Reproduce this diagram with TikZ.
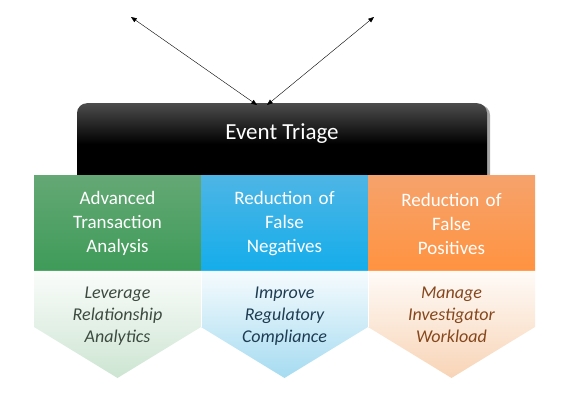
\documentclass[tikz,border=0pt]{standalone}
\usepackage{fontspec}
\setmainfont{Carlito}
\usepackage{tikz}
\usetikzlibrary{positioning,arrows.meta}

\definecolor{grntop}{HTML}{64A875}
\definecolor{grnbot}{HTML}{3E9B58}
\definecolor{blutop}{HTML}{4DB5E5}
\definecolor{blubot}{HTML}{14ADEB}
\definecolor{orgtop}{HTML}{F6A26C}
\definecolor{orgbot}{HTML}{FF9340}
\definecolor{grnlow}{HTML}{CDE5D2}
\definecolor{blulow}{HTML}{A5DBF1}
\definecolor{orglow}{HTML}{F8D4B6}
\definecolor{grntxt}{HTML}{3C4A40}
\definecolor{blutxt}{HTML}{1E3C52}
\definecolor{orgtxt}{HTML}{86471C}

\begin{document}
\begin{tikzpicture}[
x=1pt,y=-1pt,
node distance=0pt,
head/.style={minimum width=167pt,minimum height=95pt,inner sep=0pt,outer sep=0pt,text width=160pt,align=center,text=white,font=\fontsize{19}{24}\selectfont},
sub/.style={text width=160pt,align=center,font=\fontsize{18}{22}\selectfont\itshape},
arrow/.style={{Triangle[length=2mm,width=1.6mm]}-{Triangle[length=2mm,width=1.6mm]},thin}
]
\useasboundingbox (0,0) rectangle (570,403);
% top box
\fill[gray!70,rounded corners=10pt] (80,105) rectangle (490,185);
\node[anchor=north,minimum width=410pt,minimum height=82pt,text depth=25pt,rounded corners=10pt,top color=black!70,bottom color=black,middle color=black,text=white,font=\fontsize{23}{24}\selectfont] (triage) at (282,103) {Event Triage};
% headers
\node[head,anchor=north west,top color=grntop,bottom color=grnbot] (adv) at (34,176) {Advanced\\Transaction\\Analysis};
\node[head,right=of adv,top color=blutop,bottom color=blubot] (neg) {Reduction of\\False\\Negatives};
\node[head,right=of neg,top color=orgtop,bottom color=orgbot] (pos) {Reduction of\\False\\Positives};
% chevrons
\shade[top color=white!90!grnlow,bottom color=grnlow] (adv.south west) -- (adv.south east) -- ++(0,56) -- ([yshift=-107pt]adv.south) -- ([yshift=-56pt]adv.south west) -- cycle;
\shade[top color=white!90!blulow,bottom color=blulow] (neg.south west) -- (neg.south east) -- ++(0,56) -- ([yshift=-107pt]neg.south) -- ([yshift=-56pt]neg.south west) -- cycle;
\shade[top color=white!90!orglow,bottom color=orglow] (pos.south west) -- (pos.south east) -- ++(0,56) -- ([yshift=-107pt]pos.south) -- ([yshift=-56pt]pos.south west) -- cycle;
\draw[white,thin] (neg.south west) -- ++(0,56) (neg.south east) -- ++(0,56);
\node[sub,text=grntxt,below=12pt of adv.south] (lev) {Leverage\\Relationship\\Analytics};
\node[sub,text=blutxt,below=12pt of neg.south] (imp) {Improve\\Regulatory\\Compliance};
\node[sub,text=orgtxt,below=12pt of pos.south] (man) {Manage\\Investigator\\Workload};
% arrows
\coordinate (tl) at (131,17);
\coordinate (tr) at (374,17);
\draw[arrow] (tl) -- ([xshift=-25pt,yshift=-2pt]triage.north);
\draw[arrow] (tr) -- ([xshift=-15pt,yshift=-2pt]triage.north);
\end{tikzpicture}
\end{document}
